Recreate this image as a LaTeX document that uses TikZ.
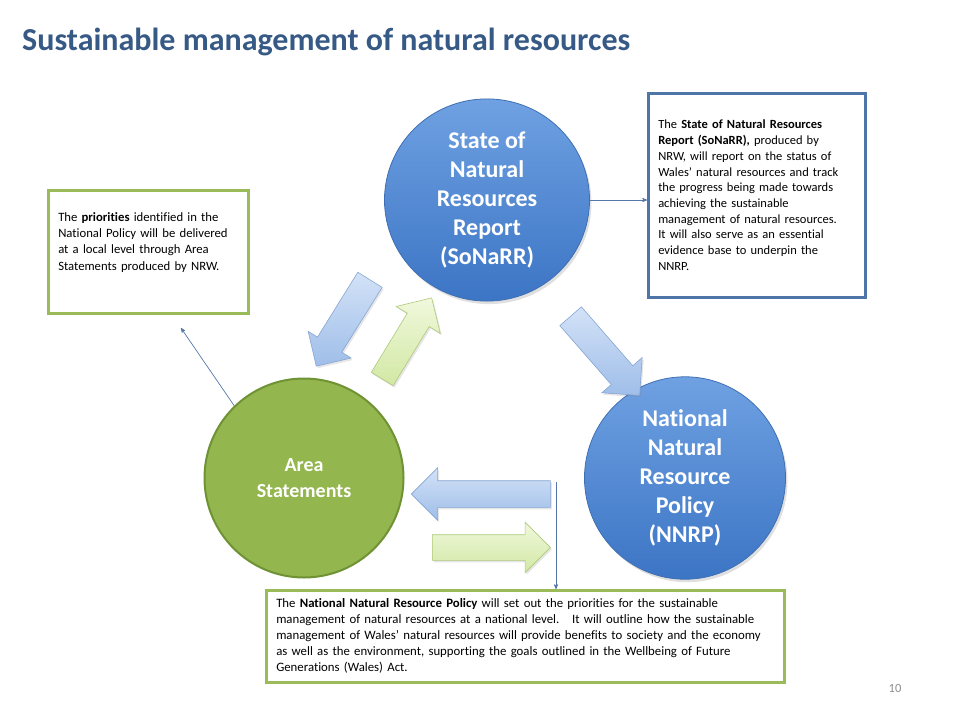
\documentclass[tikz,border=0pt]{standalone}
\usepackage{fontspec}
\setmainfont{Carlito}[Ligatures=NoCommon]
\usepackage{xcolor}
\usepackage{tikz}
\usetikzlibrary{shapes,arrows,positioning,fit,calc,shadows}

\definecolor{titleblue}{HTML}{365A85}
\definecolor{ballhi}{HTML}{6FA1E2}
\definecolor{balllo}{HTML}{3C75C5}
\definecolor{balledge}{HTML}{3F6FB3}
\definecolor{areafill}{HTML}{94B64E}
\definecolor{areaedge}{HTML}{6F9235}
\definecolor{noteblue}{HTML}{4F76A8}
\definecolor{notegreen}{HTML}{9BBB59}
\definecolor{connline}{HTML}{5678A8}
\definecolor{arrhi}{HTML}{D3E2F7}
\definecolor{arrlo}{HTML}{9FBEE9}
\definecolor{arredge}{HTML}{86A5D3}
\definecolor{grnhi}{HTML}{F0F8DC}
\definecolor{grnlo}{HTML}{D2E8A4}
\definecolor{grnedge}{HTML}{AEC978}

\begin{document}
\begin{tikzpicture}[
    x=1pt, y=-1pt,
    ball/.style={ellipse, align=center, text=white, font=\fontsize{24}{29}\selectfont\bfseries,
        top color=ballhi, bottom color=balllo, draw=balledge, line width=0.8pt,
        drop shadow={opacity=0.25, shadow xshift=2pt, shadow yshift=-3pt}},
    greenball/.style={circle, align=center, text=white, font=\fontsize{20}{26}\selectfont\bfseries,
        fill=areafill, draw=areaedge, line width=2pt},
    note/.style={rectangle, draw, line width=2.5pt, fill=white, align=left, anchor=north west,
        inner xsep=10pt, inner ysep=0pt},
    conn/.style={->, >=stealth', draw=connline, line width=0.7pt},
    bigarrow/.style={single arrow, single arrow head extend=12pt, inner xsep=0pt, minimum width=0pt,
        line width=0.6pt, drop shadow={opacity=0.2, shadow xshift=1.5pt, shadow yshift=-2pt}},
    bluearrow/.style={bigarrow, top color=arrhi, bottom color=arrlo, draw=arredge},
    greenarrow/.style={bigarrow, top color=grnhi, bottom color=grnlo, draw=grnedge}
]
\useasboundingbox (0,0) rectangle (960,720);

% Title
\node[anchor=base west, inner sep=0pt, text=titleblue, font=\fontsize{32}{38}\selectfont\bfseries] (title) at (22,50) {Sustainable management of natural resources};

% Circles
\node[ball, minimum width=205pt, minimum height=195pt] (sonarr) at (487,200) {State of\\Natural\\Resources\\Report\\(SoNaRR)};
\node[ball, minimum width=201pt, minimum height=197pt] (nnrp) at (685,478) {National\\Natural\\Resource\\Policy\\(NNRP)};
\node[greenball, minimum size=199pt] (area) at (304,478) {Area\\Statements};

% Block arrows
\node[bluearrow, rotate=238.1, minimum height=101.7pt, inner ysep=14pt, single arrow head extend=11pt] (tolocal) at (346.9,316.9) {};
\node[greenarrow, rotate=58.6, minimum height=95pt, inner ysep=12.5pt, single arrow head extend=13pt] (tostate) at (403.6,343.9) {};
\node[bluearrow, rotate=-48.9, minimum height=105pt, inner ysep=14pt, single arrow head extend=12.5pt] (topolicy) at (600.4,350.4) {};
\node[bluearrow, rotate=180, minimum height=139pt, inner ysep=13pt, single arrow head extend=13pt] (backarrow) at (487.5,494) {};
\node[greenarrow, minimum height=118pt, inner ysep=12.5pt, single arrow head extend=12.5pt] (fwdarrow) at (485,547.5) {};

% Notes
\node[note, draw=noteblue, text width=197pt, minimum height=204pt, font=\fontsize{12.5}{15.7}\selectfont] (sonarrnote) at (647,92) {The \textbf{State of Natural Resources}\\
\textbf{Report (SoNaRR),} produced by\\
NRW, will report on the status of\\
Wales’ natural resources and track\\
the progress being made towards\\
achieving the sustainable\\
management of natural resources.\\
It will also serve as an essential\\
evidence base to underpin the\\
NNRP.};

\node[note, draw=notegreen, text width=180pt, minimum height=123pt, text depth=70pt, font=\fontsize{12.7}{16.3}\selectfont] (prionote) at (47,189) {The \textbf{priorities} identified in the\\
National Policy will be delivered\\
at a local level through Area\\
Statements produced by NRW.};

\node[note, draw=notegreen, text width=498pt, minimum height=92pt, font=\fontsize{12.8}{16}\selectfont] (policynote) at (265,589) {The \textbf{National Natural Resource Policy} will set out the priorities for the sustainable\\
management of natural resources at a national level.\quad It will outline how the sustainable\\
management of Wales’ natural resources will provide benefits to society and the economy\\
as well as the environment, supporting the goals outlined in the Wellbeing of Future\\
Generations (Wales) Act.};

% Connectors
\coordinate (prioend) at (181,328);
\coordinate (dropstart) at (556,482);
\draw[conn] (sonarr.east) -- (sonarr.east -| sonarrnote.west);
\draw[conn] (area.134) -- (prioend);
\draw[conn] (dropstart) -- (dropstart |- policynote.north);

% Page number
\node[anchor=base, inner sep=0pt, text=gray!90, font=\fontsize{12.5}{15}\selectfont] (pagenum) at (895,692) {10};

\end{tikzpicture}
\end{document}
